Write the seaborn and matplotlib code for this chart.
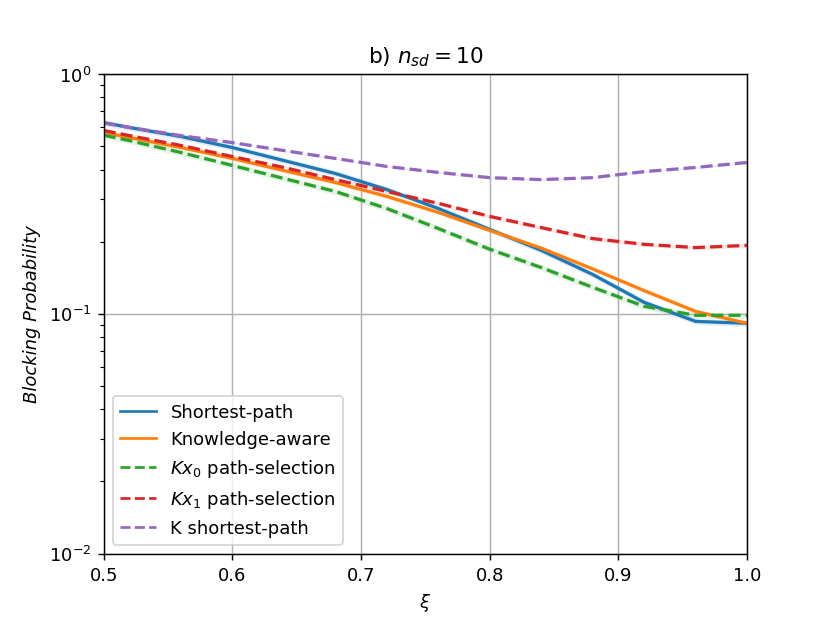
import numpy as np
import pandas as pd
import matplotlib
matplotlib.use("Agg")
import matplotlib.pyplot as plt
import seaborn as sns

xi = [0.50, 0.52, 0.56, 0.60, 0.64, 0.68, 0.72, 0.76, 0.80, 0.84, 0.88, 0.92, 0.96, 1.00]

shortest_path = [0.628, 0.599, 0.549, 0.494, 0.436, 0.385, 0.330, 0.275, 0.225, 0.184, 0.146, 0.1117, 0.0930, 0.0913]
knowledge_aware = [0.571, 0.544, 0.494, 0.445, 0.396, 0.353, 0.309, 0.265, 0.223, 0.188, 0.154, 0.125, 0.1024, 0.0913]
kx0_selection = [0.556, 0.528, 0.471, 0.416, 0.367, 0.324, 0.275, 0.227, 0.186, 0.156, 0.129, 0.1075, 0.0986, 0.0986]
kx1_selection = [0.582, 0.554, 0.504, 0.453, 0.408, 0.363, 0.324, 0.289, 0.255, 0.229, 0.206, 0.195, 0.189, 0.193]
k_shortest = [0.625, 0.599, 0.554, 0.518, 0.480, 0.445, 0.412, 0.389, 0.370, 0.363, 0.370, 0.392, 0.408, 0.428]

series_names = ["Shortest-path", "Knowledge-aware", "$Kx_0$ path-selection",
                "$Kx_1$ path-selection", "K shortest-path"]
series_values = [shortest_path, knowledge_aware, kx0_selection, kx1_selection, k_shortest]
# relative half-width of the faint confidence band
band_spread = [0.03, 0.02, 0.03, 0.02, 0.01]

colors = ["#1f77b4", "#ff7f0e", "#2ca02c", "#d62728", "#9467bd"]
styles = ["-", "-", "--", "--", "--"]

plt.rcParams["font.family"] = ["DejaVu Sans"]
fig, ax = plt.subplots(figsize=(6.4, 4.8), dpi=129.7)

for name, vals, sp, c, ls in zip(series_names, series_values, band_spread, colors, styles):
    df = pd.DataFrame({"xi": xi, "p": vals})
    sns.lineplot(data=df, x="xi", y="p", ax=ax, color=c, linestyle=ls,
                 linewidth=1.8, label=name)
    v = np.array(vals)
    ax.fill_between(xi, v * (1 - sp), v * (1 + sp), color=c, alpha=0.12, linewidth=0)

ax.set_yscale("log")
ax.set_xlim(0.5, 1.0)
ax.set_ylim(1e-2, 1e0)
ax.grid(True, which="major", color="#b0b0b0", linewidth=0.8)
ax.set_xlabel(r"$\xi$")
ax.set_ylabel("Blocking Probability", fontstyle="italic")
ax.set_title(r"b) $n_{sd} = 10$")

leg = ax.legend(loc="lower left")
for line in leg.get_lines():
    line.set_linewidth(1.5)

fig.savefig("out.png", dpi=129.7)
